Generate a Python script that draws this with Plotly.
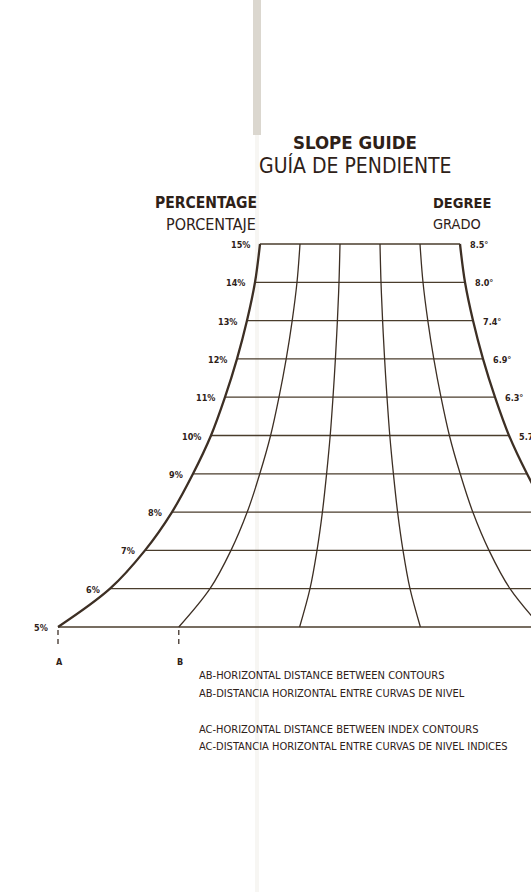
import plotly.graph_objects as go

# ---- data ----
percent = [5, 6, 7, 8, 9, 10, 11, 12, 13, 14, 15]
# half of the horizontal distance between the outer curves at each slope (chart units)
half_width = [302, 250, 215, 188, 167, 149, 135, 123, 113, 105, 100]
percent_labels = ["5%", "6%", "7%", "8%", "9%", "10%", "11%", "12%", "13%", "14%", "15%"]
degree_labels = ["2.9°", "3.4°", "4.0°", "4.6°", "5.1°", "5.7°", "6.3°", "6.9°", "7.4°", "8.0°", "8.5°"]
columns = [0, 1, 2, 3, 4, 5]  # grid divisions across the width (k / 5)

W, H = 531, 892
CENTER_PX = 360
TOP_PX, STEP_PX = 244, 38.3
FONT = "Liberation Sans Narrow, DejaVu Sans Condensed, Roboto, sans-serif"
INK = "#2e2118"
LINE = "#3d2f24"
HLINE = "#4a3d2c"
LABEL_GAP = 8


def px2p(py):
    return 15 - (py - TOP_PX) / STEP_PX


fig = go.Figure()

# horizontal contour lines
hx, hy = [], []
for p, hw in zip(percent, half_width):
    hx += [-hw, hw, None]
    hy += [p, p, None]
fig.add_trace(go.Scatter(x=hx, y=hy, mode="lines", line=dict(color=HLINE, width=1.3),
                         hoverinfo="skip", showlegend=False))

# curved division lines
for k in columns:
    xs = [hw * (2 * k / 5 - 1) for hw in half_width]
    outer = k in (0, 5)
    fig.add_trace(go.Scatter(x=xs, y=percent, mode="lines",
                             line=dict(color=LINE, width=2.3 if outer else 1.3, shape="spline"),
                             hoverinfo="skip", showlegend=False))

# A and B dashed markers under the 5% line
a_x = -half_width[0]
b_x = half_width[0] * (2 * 1 / 5 - 1)
for xm in (a_x, b_x):
    fig.add_trace(go.Scatter(x=[xm, xm], y=[px2p(630), px2p(648)], mode="lines",
                             line=dict(color=INK, width=1.2, dash="5px,4px"),
                             hoverinfo="skip", showlegend=False))

ann = []
# percentage labels
for p, hw, lab in zip(percent, half_width, percent_labels):
    ann.append(dict(x=-hw, y=p, xref="x", yref="y", text=f"<b>{lab}</b>", showarrow=False,
                    xanchor="right", yanchor="middle", xshift=-LABEL_GAP, yshift=-1,
                    font=dict(size=9, color=INK, family=FONT)))
# degree labels (those falling past the page edge are not visible in the original)
for p, hw, lab in zip(percent, half_width, degree_labels):
    if CENTER_PX + hw + LABEL_GAP >= W - 4:
        continue
    ann.append(dict(x=hw, y=p, xref="x", yref="y", text=f"<b>{lab}</b>", showarrow=False,
                    xanchor="left", yanchor="middle", xshift=LABEL_GAP, yshift=-1,
                    font=dict(size=9, color=INK, family=FONT)))


def ptext(txt, x, y, size, anchor="left", bold=False):
    ann.append(dict(x=x / W, y=1 - y / H, xref="paper", yref="paper",
                    text=f"<b>{txt}</b>" if bold else txt, showarrow=False,
                    xanchor=anchor, yanchor="middle",
                    font=dict(size=size, color=INK, family=FONT)))


ptext("SLOPE GUIDE", 355, 143, 18.5, "center", True)
ptext("GUÍA DE PENDIENTE", 355, 166, 21, "center")
ptext("PERCENTAGE", 259, 203, 15.5, "right", True)
ptext("PORCENTAJE", 258, 224, 16, "right")
ptext("DEGREE", 431, 203, 14.5, "left", True)
ptext("GRADO", 431, 224, 14.5, "left")
ptext("A", 59, 662, 9, "center", True)
ptext("B", 180, 662, 9, "center", True)
ptext("AB-HORIZONTAL DISTANCE BETWEEN CONTOURS", 197, 675, 11, "left")
ptext("AB-DISTANCIA HORIZONTAL ENTRE CURVAS DE NIVEL", 197, 693, 11, "left")
ptext("AC-HORIZONTAL DISTANCE BETWEEN INDEX CONTOURS", 197, 729, 11, "left")
ptext("AC-DISTANCIA HORIZONTAL ENTRE CURVAS DE NIVEL INDICES", 197, 746, 11, "left")

# paper fold texture
shapes = [
    dict(type="rect", xref="paper", yref="paper", x0=253 / W, x1=261 / W, y0=1 - 135 / H, y1=1,
         fillcolor="rgba(170,160,140,0.42)", line=dict(width=0), layer="below"),
    dict(type="rect", xref="paper", yref="paper", x0=255 / W, x1=259 / W, y0=0, y1=1 - 135 / H,
         fillcolor="rgba(190,180,160,0.12)", line=dict(width=0), layer="below"),
]

fig.update_layout(
    width=W, height=H,
    margin=dict(l=0, r=0, t=0, b=0),
    paper_bgcolor="white", plot_bgcolor="white",
    xaxis=dict(range=[-CENTER_PX, W - CENTER_PX], visible=False, fixedrange=True),
    yaxis=dict(range=[px2p(H), px2p(0)], visible=False, fixedrange=True),
    annotations=ann, shapes=shapes,
    showlegend=False,
)

fig.write_html("out.html", config={"displayModeBar": False},
               post_script="document.body.style.margin='0';document.body.style.overflow='hidden';")
